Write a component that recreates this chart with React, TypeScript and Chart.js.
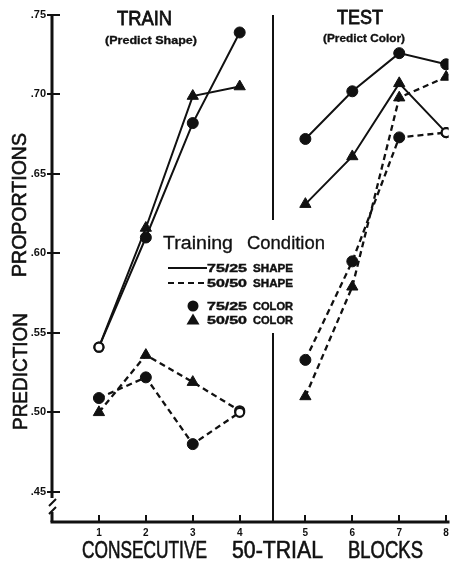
import { useEffect, useRef } from 'react';
import { Chart, registerables } from 'chart.js';

Chart.register(...registerables);

// ---- data ----
const BLOCK_LABELS = ['1', '2', '3', '4', '5', '6', '7', '8'];
const BLOCK_NUMBERS = [1, 2, 3, 4, 5, 6, 7, 8];
const TRAIN_BLOCKS = 4;

// 75/25 shape training, 75/25 colour (solid line, circle)
const SHAPE75_COLOR75 = [0.541, 0.610, 0.682, 0.739, 0.672, 0.702, 0.726, 0.719];
// 75/25 shape training, 50/50 colour (solid line, triangle)
const SHAPE75_COLOR50 = [0.541, 0.616, 0.699, 0.705, 0.631, 0.661, 0.707, 0.676];
// 50/50 shape training, 75/25 colour (dashed line, circle)
const SHAPE50_COLOR75 = [0.509, 0.522, 0.480, 0.500, 0.533, 0.595, 0.673, 0.676];
// 50/50 shape training, 50/50 colour (dashed line, triangle)
const SHAPE50_COLOR50 = [0.500, 0.536, 0.519, 0.501, 0.510, 0.579, 0.698, 0.711];

// indices where two series coincide and the figure shows an open circle
const OPEN_SHAPE75 = [0];
const OPEN_SHAPE75_TRI = [0, 7];
const OPEN_SHAPE50 = [3, 7];
const OPEN_SHAPE50_TRI = [3];

const Y_TICKS = [0.45, 0.5, 0.55, 0.6, 0.65, 0.7, 0.75];

// ---- layout constants ----
const TEST_SHIFT = 0.4;
const DIVIDER_X = 4.7;
const FONT = "'Liberation Sans', Arial, Helvetica, sans-serif";
const INK = '#111';

const blockX = (i: number) => BLOCK_NUMBERS[i] + (BLOCK_NUMBERS[i] > TRAIN_BLOCKS ? TEST_SHIFT : 0);

function fitText(ctx: CanvasRenderingContext2D, text: string, cx: number, baseY: number, width: number, font: string, heavy = 0) {
  ctx.save();
  ctx.font = font;
  ctx.fillStyle = INK;
  ctx.strokeStyle = INK;
  ctx.textAlign = 'center';
  ctx.textBaseline = 'alphabetic';
  const w = ctx.measureText(text).width;
  ctx.translate(cx, baseY);
  ctx.scale(width / w, 1);
  ctx.fillText(text, 0, 0);
  if (heavy > 0) {
    ctx.lineWidth = heavy;
    ctx.strokeText(text, 0, 0);
  }
  ctx.restore();
}

function rotText(ctx: CanvasRenderingContext2D, text: string, baseX: number, cy: number, width: number, font: string, heavy = 0) {
  ctx.save();
  ctx.font = font;
  ctx.fillStyle = INK;
  ctx.strokeStyle = INK;
  ctx.textAlign = 'center';
  ctx.textBaseline = 'alphabetic';
  const w = ctx.measureText(text).width;
  ctx.translate(baseX, cy);
  ctx.rotate(-Math.PI / 2);
  ctx.scale(width / w, 1);
  ctx.fillText(text, 0, 0);
  if (heavy > 0) {
    ctx.lineWidth = heavy;
    ctx.strokeText(text, 0, 0);
  }
  ctx.restore();
}

const decorations = {
  id: 'decorations',
  beforeDatasetsDraw(chart: any) {
    const { ctx, chartArea, scales } = chart;
    const L = chartArea.left;
    const B = chartArea.bottom;
    const T = chartArea.top;
    const R = chartArea.right;
    ctx.save();
    ctx.strokeStyle = INK;
    ctx.lineCap = 'butt';
    // left axis with break
    ctx.lineWidth = 3;
    ctx.beginPath();
    ctx.moveTo(L, T - 1);
    ctx.lineTo(L, B - 24);
    ctx.moveTo(L, B - 10);
    ctx.lineTo(L, B);
    ctx.stroke();
    ctx.lineWidth = 2;
    ctx.beginPath();
    ctx.moveTo(L - 3, B - 16);
    ctx.lineTo(L + 4, B - 23);
    ctx.moveTo(L - 3, B - 8);
    ctx.lineTo(L + 4, B - 15);
    ctx.stroke();
    // bottom axis
    ctx.lineWidth = 3;
    ctx.beginPath();
    ctx.moveTo(L - 1.5, B);
    ctx.lineTo(R + 1, B);
    ctx.stroke();
    // y ticks
    ctx.lineWidth = 2;
    ctx.beginPath();
    for (const v of Y_TICKS) {
      const y = Math.round(scales.y.getPixelForValue(v));
      ctx.moveTo(L - 5, y);
      ctx.lineTo(L + 8, y);
    }
    // x ticks
    BLOCK_NUMBERS.forEach((_, i) => {
      const x = Math.round(scales.x.getPixelForValue(blockX(i)));
      ctx.moveTo(x, B - 7);
      ctx.lineTo(x, B + 1);
    });
    ctx.stroke();
    // divider between train and test
    const dx = Math.round(scales.x.getPixelForValue(DIVIDER_X));
    ctx.lineWidth = 2;
    ctx.beginPath();
    ctx.moveTo(dx, T);
    ctx.lineTo(dx, 220);
    ctx.moveTo(dx, 333);
    ctx.lineTo(dx, B);
    ctx.stroke();
    ctx.restore();
  },
  afterDraw(chart: any) {
    const { ctx } = chart;
    // panel titles
    fitText(ctx, 'TRAIN', 144.5, 25, 55, `21px ${FONT}`, 0.8);
    fitText(ctx, '(Predict Shape)', 151, 44, 92, `bold 10px ${FONT}`, 0.3);
    fitText(ctx, 'TEST', 360, 23.5, 46, `21px ${FONT}`, 0.8);
    fitText(ctx, '(Predict Color)', 364, 42, 82, `bold 10px ${FONT}`, 0.3);
    // axis titles
    rotText(ctx, 'PROPORTIONS', 26, 205, 144, `21px ${FONT}`, 0.6);
    rotText(ctx, 'PREDICTION', 27, 371.5, 117, `21px ${FONT}`, 0.6);
    fitText(ctx, 'CONSECUTIVE', 144.5, 558, 125, `24px ${FONT}`, 0.6);
    fitText(ctx, '50-TRIAL', 277.5, 558, 91, `24px ${FONT}`, 0.6);
    fitText(ctx, 'BLOCKS', 385.5, 558, 75, `24px ${FONT}`, 0.6);
    // legend
    fitText(ctx, 'Training', 198, 248.5, 70, `18px ${FONT}`, 0.3);
    fitText(ctx, 'Condition', 286, 248.5, 78, `18px ${FONT}`, 0.3);
    const rows = [
      { a: '75/25', b: 'SHAPE', y: 272 },
      { a: '50/50', b: 'SHAPE', y: 287 },
      { a: '75/25', b: 'COLOR', y: 310 },
      { a: '50/50', b: 'COLOR', y: 324 },
    ];
    rows.forEach((r) => {
      fitText(ctx, r.a, 227, r.y, 40, `bold 10px ${FONT}`, 0.4);
      fitText(ctx, r.b, 273, r.y, 40, `bold 10px ${FONT}`, 0.4);
    });
    ctx.save();
    ctx.strokeStyle = INK;
    ctx.fillStyle = INK;
    ctx.lineWidth = 2;
    ctx.beginPath();
    ctx.moveTo(168, 268);
    ctx.lineTo(207, 268);
    ctx.stroke();
    ctx.setLineDash([6, 4]);
    ctx.beginPath();
    ctx.moveTo(168, 283);
    ctx.lineTo(206, 283);
    ctx.stroke();
    ctx.setLineDash([]);
    ctx.beginPath();
    ctx.arc(193, 306, 5.5, 0, Math.PI * 2);
    ctx.fill();
    ctx.beginPath();
    ctx.moveTo(193, 313.5);
    ctx.lineTo(199.5, 324.5);
    ctx.lineTo(186.5, 324.5);
    ctx.closePath();
    ctx.fill();
    ctx.restore();
  },
};

function makeSets(label: string, values: number[], dashed: boolean, marker: string, open: number[]) {
  const build = (from: number, to: number) => {
    const idx: number[] = [];
    for (let i = from; i < to; i++) idx.push(i);
    const isOpen = (c: any) => open.includes(idx[c.dataIndex]);
    return {
      label,
      data: idx.map((i) => ({ x: blockX(i), y: values[i] })),
      borderColor: INK,
      borderWidth: dashed ? 2.3 : 2,
      borderDash: dashed ? [6, 4] : [],
      fill: false,
      tension: 0,
      pointStyle: (c: any) => (isOpen(c) ? 'circle' : marker),
      pointRadius: (c: any) => (isOpen(c) ? 4.5 : marker === 'triangle' ? 6.5 : 5.5),
      pointBackgroundColor: (c: any) => (isOpen(c) ? '#fff' : INK),
      pointBorderColor: INK,
      pointBorderWidth: (c: any) => (isOpen(c) ? 2.2 : 1),
      pointHoverRadius: 0,
    };
  };
  return [build(0, TRAIN_BLOCKS), build(TRAIN_BLOCKS, values.length)];
}

export default function App() {
  const ref = useRef<HTMLCanvasElement>(null);
  useEffect(() => {
    if (!ref.current) return;
    const chart = new Chart(ref.current, {
      type: 'line',
      data: {
        datasets: [
          ...makeSets('75/25 SHAPE · 75/25 COLOR', SHAPE75_COLOR75, false, 'circle', OPEN_SHAPE75),
          ...makeSets('75/25 SHAPE · 50/50 COLOR', SHAPE75_COLOR50, false, 'triangle', OPEN_SHAPE75_TRI),
          ...makeSets('50/50 SHAPE · 75/25 COLOR', SHAPE50_COLOR75, true, 'circle', OPEN_SHAPE50),
          ...makeSets('50/50 SHAPE · 50/50 COLOR', SHAPE50_COLOR50, true, 'triangle', OPEN_SHAPE50_TRI),
        ] as any,
      },
      options: {
        responsive: false,
        animation: false,
        events: [],
        layout: { padding: { top: 15, right: 7, left: 0, bottom: 0 } },
        plugins: { legend: { display: false }, tooltip: { enabled: false }, title: { display: false } },
        scales: {
          x: {
            type: 'linear',
            min: 0,
            max: 8.45,
            grid: { display: false, drawTicks: false },
            border: { display: false },
            afterBuildTicks: (s: any) => {
              s.ticks = BLOCK_NUMBERS.map((_, i) => ({ value: blockX(i) }));
            },
            ticks: {
              autoSkip: false,
              maxRotation: 0,
              padding: 5,
              color: INK,
              font: { family: FONT, size: 10, weight: 'bold' },
              callback: (_v: any, i: number) => BLOCK_LABELS[i],
            },
            afterFit: (s: any) => {
              s.height = 40;
            },
          },
          y: {
            type: 'linear',
            min: 0.431,
            max: 0.75,
            grid: { display: false, drawTicks: false },
            border: { display: false },
            afterBuildTicks: (s: any) => {
              s.ticks = Y_TICKS.map((v) => ({ value: v }));
            },
            ticks: {
              padding: 6,
              color: INK,
              font: { family: FONT, size: 11, weight: 'bold' },
              callback: (v: any) => '.' + Math.round(Number(v) * 100),
            },
            afterFit: (s: any) => {
              s.width = 52;
            },
          },
        },
      } as any,
      plugins: [decorations],
    });
    return () => chart.destroy();
  }, []);
  return (
    <div style={{ position: 'fixed', left: 0, top: 0, width: 456, height: 562, background: '#fff' }}>
      <canvas ref={ref} width={456} height={562} style={{ display: 'block' }} />
    </div>
  );
}
